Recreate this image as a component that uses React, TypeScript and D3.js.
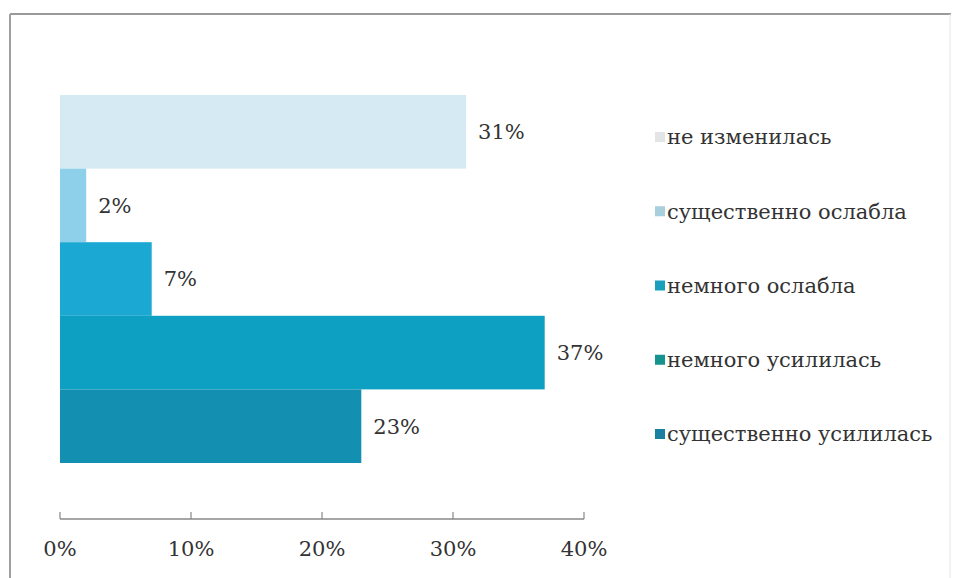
import React from "react";
import * as d3 from "d3";

const categories = [
  "не изменилась",
  "существенно ослабла",
  "немного ослабла",
  "немного усилилась",
  "существенно усилилась",
];
const values = [31, 2, 7, 37, 23];
const tickValues = [0, 10, 20, 30, 40];
const barColors = ["#d5eaf3", "#8ecfea", "#1ba8d2", "#0ea0c3", "#1390b1"];
const legendColors = ["#e2e4e6", "#a9cfdc", "#1a9fbc", "#17938f", "#1a7fa0"];

const W = 955;
const H = 578;
const FONT = "DejaVu Serif, Liberation Serif, serif";

export default function App() {
  const x = d3.scaleLinear().domain([0, 40]).range([60, 584]);
  const y = d3.scaleBand<string>().domain(categories).range([95, 463]).padding(0);
  const legendY = d3.scalePoint<string>().domain(categories).range([137, 434]);
  const tf = { fontFamily: FONT };

  return (
    <svg
      width={W}
      height={H}
      style={{ position: "absolute", left: 0, top: 0, background: "#fff" }}
    >
      <rect x={0} y={0} width={W} height={H} fill="#fff" />
      {/* frame */}
      <line x1={10} y1={14} x2={951} y2={14} stroke="#9a9a9a" strokeWidth={2} />
      <line x1={10} y1={14} x2={10} y2={578} stroke="#a0a0a0" strokeWidth={2} />
      <line x1={950} y1={14} x2={950} y2={578} stroke="#e4e4e4" strokeWidth={1} />

      {/* bars */}
      {categories.map((c, i) => (
        <rect
          key={c}
          x={x(0)}
          y={y(c)}
          width={x(values[i]) - x(0)}
          height={y.bandwidth()}
          fill={barColors[i]}
        />
      ))}

      {/* value labels */}
      {categories.map((c, i) => (
        <text
          key={c + "l"}
          x={x(values[i]) + 12}
          y={(y(c) as number) + y.bandwidth() / 2}
          dy="0.35em"
          fontSize={21}
          fill="#333"
          style={tf}
        >
          {values[i]}%
        </text>
      ))}

      {/* x axis */}
      <line x1={x(0)} y1={519} x2={x(40)} y2={519} stroke="#888" strokeWidth={1.5} />
      {tickValues.map((t) => (
        <g key={t}>
          <line x1={x(t)} y1={512} x2={x(t)} y2={519} stroke="#888" strokeWidth={1.2} />
          <text
            x={x(t)}
            y={556}
            textAnchor="middle"
            fontSize={21}
            fill="#333"
            style={tf}
          >
            {t}%
          </text>
        </g>
      ))}

      {/* legend */}
      {categories.map((c, i) => (
        <g key={c + "g"} transform={`translate(655, ${legendY(c)})`}>
          <rect x={0} y={-5} width={10} height={10} fill={legendColors[i]} />
          <text x={12} y={0} dy="0.35em" fontSize={21} fill="#333" style={tf}>
            {c}
          </text>
        </g>
      ))}
    </svg>
  );
}
